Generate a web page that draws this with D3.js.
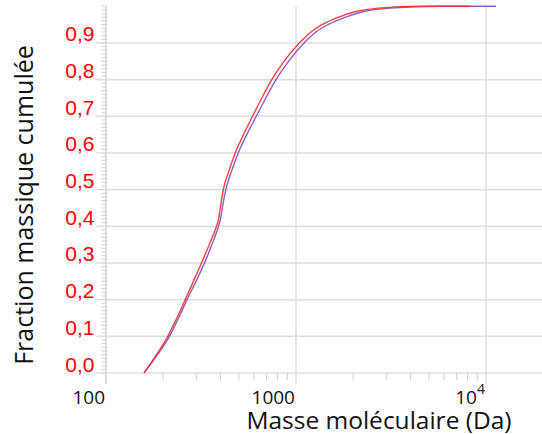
<!DOCTYPE html>
<html>
<head>
<meta charset="utf-8">
<script src="https://cdn.jsdelivr.net/npm/d3@7/dist/d3.min.js"></script>
<style>
  html, body { margin: 0; padding: 0; background: #fff; }
  svg { display: block; }
</style>
</head>
<body>
<svg id="chart" width="542" height="434"></svg>
<script>
// ---- data ----
const yTicks = [0, 0.1, 0.2, 0.3, 0.4, 0.5, 0.6, 0.7, 0.8, 0.9];
const yTickLabels = ["0,0", "0,1", "0,2", "0,3", "0,4", "0,5", "0,6", "0,7", "0,8", "0,9"];
const xTicks = [100, 1000, 10000];
const xTickLabels = ["100", "1000", "10^4"];
const xMinorTicks = [200, 300, 400, 500, 600, 700, 800, 900, 2000, 3000, 4000, 5000, 6000, 7000, 8000, 9000];

const redMass = [158.5, 184.4, 211.5, 235.9, 261.2, 288.4, 318.1, 349.3, 381.6, 391.4, 399.6, 414.3, 442.9, 478.6, 529.3, 590.4, 660.7, 744.9, 864.7, 1040.8, 1199.4, 1370.5, 1663.6, 2044.5, 2701.4, 4495, 8237];
const redFrac = [0, 0.05, 0.1, 0.15, 0.2, 0.25, 0.3, 0.35, 0.4, 0.42, 0.45, 0.5, 0.55, 0.6, 0.65, 0.7, 0.75, 0.8, 0.85, 0.9, 0.93, 0.95, 0.97, 0.985, 0.995, 1.0, 1.0];

const purpleMass = [158.5, 186.7, 215.9, 240.8, 266.9, 297.7, 330.0, 360.5, 390.9, 400.5, 409.4, 427.1, 457.6, 496.4, 550.8, 617.4, 693.5, 784.8, 913.1, 1101.9, 1274.3, 1473.9, 1811.3, 2252.7, 3123.5, 5728, 11290];
const purpleFrac = [0, 0.05, 0.1, 0.15, 0.2, 0.25, 0.3, 0.35, 0.4, 0.42, 0.45, 0.5, 0.55, 0.6, 0.65, 0.7, 0.75, 0.8, 0.85, 0.9, 0.93, 0.95, 0.97, 0.985, 0.995, 1.0, 1.0];

const xTitle = "Masse moléculaire (Da)";
const yTitle = "Fraction massique cumulée";

// ---- layout ----
const svg = d3.select("#chart");
const plotLeft = 106, plotRight = 542, plotTop = 6.3, plotBottom = 373;
const x = d3.scaleLog().domain([100, 19710]).range([plotLeft, plotRight]);
const y = d3.scaleLinear().domain([0, 1]).range([plotBottom, plotTop]);
const gridColor = "#dedede";

// horizontal gridlines
svg.append("g").selectAll("line").data(yTicks).join("line")
  .attr("x1", plotLeft).attr("x2", plotRight)
  .attr("y1", d => y(d)).attr("y2", d => y(d))
  .attr("stroke", gridColor).attr("stroke-width", 1.5);

// vertical gridlines (1000, 10^4)
svg.append("g").selectAll("line").data(xTicks.slice(1)).join("line")
  .attr("x1", d => x(d)).attr("x2", d => x(d))
  .attr("y1", 6.5).attr("y2", 384)
  .attr("stroke", gridColor).attr("stroke-width", 1.5);

// y axis line
svg.append("line").attr("x1", plotLeft).attr("x2", plotLeft).attr("y1", 6).attr("y2", 384)
  .attr("stroke", "#cfcfcf").attr("stroke-width", 1.5);

// y minor ticks
const yMinor = d3.range(0, 101).map(i => i / 100);
svg.append("g").selectAll("line").data(yMinor).join("line")
  .attr("x1", plotLeft - 4.5).attr("x2", plotLeft)
  .attr("y1", d => y(d)).attr("y2", d => y(d))
  .attr("stroke", "#cfcfcf").attr("stroke-width", 1);

// y major ticks
svg.append("g").selectAll("line").data(yTicks).join("line")
  .attr("x1", plotLeft - 10).attr("x2", plotLeft)
  .attr("y1", d => y(d)).attr("y2", d => y(d))
  .attr("stroke", gridColor).attr("stroke-width", 1.5);

// x minor ticks
svg.append("g").selectAll("line").data(xMinorTicks).join("line")
  .attr("x1", d => x(d)).attr("x2", d => x(d))
  .attr("y1", plotBottom).attr("y2", plotBottom + 7)
  .attr("stroke", "#d6d6d6").attr("stroke-width", 1.2);

// y tick labels
svg.append("g").selectAll("text").data(yTicks).join("text")
  .attr("x", 94.5).attr("y", d => y(d) - 1.5)
  .attr("text-anchor", "end")
  .attr("font-family", "'Liberation Sans', Arial, sans-serif")
  .attr("font-size", 21).attr("fill", "#ff0000")
  .text((d, i) => yTickLabels[i]);

// x tick labels
const xl = svg.append("g").selectAll("text").data(xTicks).join("text")
  .attr("x", d => x(d) - 1).attr("y", 404)
  .attr("text-anchor", "end")
  .attr("font-family", "'Open Sans', sans-serif")
  .attr("font-size", 19).attr("fill", "#111");
xl.each(function(d, i) {
  const lab = xTickLabels[i];
  const t = d3.select(this);
  if (lab.includes("^")) {
    const [b, e] = lab.split("^");
    t.append("tspan").text(b);
    t.append("tspan").attr("dy", -10).attr("font-size", 14).text(e);
  } else {
    t.text(lab);
  }
});

// titles
svg.append("text")
  .attr("x", 379).attr("y", 428.5)
  .attr("text-anchor", "middle")
  .attr("font-family", "'Open Sans', sans-serif")
  .attr("font-size", 24.5).attr("fill", "#111")
  .text(xTitle);

svg.append("text")
  .attr("transform", "translate(33,205) rotate(-90)")
  .attr("text-anchor", "middle")
  .attr("font-family", "'Open Sans', sans-serif")
  .attr("font-size", 25).attr("fill", "#111")
  .text(yTitle);

// curves
const line = d3.line().x(d => x(d[0])).y(d => y(d[1])).curve(d3.curveMonotoneX);
const purple = purpleMass.map((m, i) => [m, purpleFrac[i]]);
const red = redMass.map((m, i) => [m, redFrac[i]]);

svg.append("path").datum(purple).attr("d", line)
  .attr("fill", "none").attr("stroke", "#7a3fb8").attr("stroke-width", 1.4).attr("stroke-opacity", 0.85);
svg.append("path").datum(red).attr("d", line)
  .attr("fill", "none").attr("stroke", "#ff2a2a").attr("stroke-width", 1.4).attr("stroke-opacity", 0.9);
</script>
</body>
</html>
